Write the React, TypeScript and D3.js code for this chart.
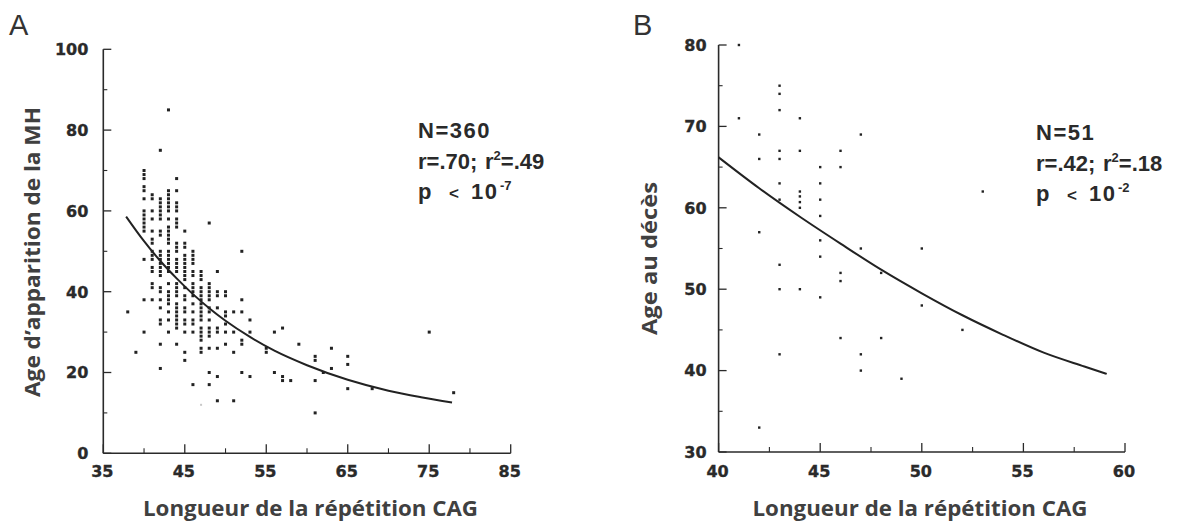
import React from "react";
import * as d3 from "d3";

// ---------- Panel A data (CAG repeat length vs age at onset) ----------
const cagA = [38, 39, 40, 41, 42, 43, 44, 45, 46, 47, 48, 49, 50, 51, 52, 53, 55, 56, 57, 58, 59, 61, 62, 63, 65, 68, 75, 78];
const onsetA: number[][] = [
  [35],
  [25],
  [70, 69, 68, 66, 65, 63, 60, 59, 58, 57, 56, 55, 48, 38, 30],
  [64, 63, 60, 58, 55, 53, 52, 50, 49, 48, 46, 45, 42, 41, 38],
  [75, 63, 62, 61, 60, 59, 58, 55, 54, 50, 49, 48, 47, 46, 45, 44, 41, 40, 38, 36, 33, 32, 27, 21],
  [85, 65, 64, 63, 62, 61, 60, 58, 56, 55, 54, 53, 52, 50, 49, 48, 47, 46, 45, 42, 40, 39, 38, 37, 35, 33, 30],
  [68, 65, 62, 61, 60, 58, 57, 56, 52, 51, 50, 48, 47, 46, 45, 42, 41, 40, 39, 37, 36, 35, 34, 33, 32, 31, 27],
  [55, 52, 51, 49, 48, 47, 46, 45, 44, 43, 41, 39, 38, 36, 35, 33, 32, 30, 25, 23],
  [50, 49, 48, 47, 45, 44, 42, 41, 40, 39, 37, 35, 33, 32, 30, 17],
  [45, 44, 43, 41, 40, 39, 38, 37, 36, 35, 34, 33, 31, 30, 29, 28, 26, 25],
  [57, 42, 41, 40, 39, 38, 36, 35, 33, 31, 30, 29, 26, 20, 17],
  [45, 40, 39, 36, 31, 30, 26, 19, 13],
  [40, 39, 35, 34, 32, 30, 27],
  [35, 30, 25, 13],
  [50, 38, 35, 28, 27, 20],
  [33, 30, 19],
  [26, 25],
  [30, 20],
  [31, 19, 18],
  [18],
  [27],
  [24, 23, 18, 10],
  [20],
  [26, 21],
  [24, 22, 16],
  [16],
  [30],
  [15],
];
const faintCagA = [47];
const faintOnsetA = [12];
const fitCagA = [37.8, 40, 42, 44, 46, 48, 50, 53, 56, 60, 65, 70, 74, 77.8];
const fitOnsetA = [58.6, 52.5, 47.6, 43.3, 39.4, 35.9, 32.8, 28.8, 25.4, 21.8, 18.2, 15.5, 13.9, 12.6];

const xMajorA = [35, 45, 55, 65, 75, 85];
const xMinorA = [40, 50, 60, 70, 80];
const yMajorA = [0, 20, 40, 60, 80, 100];
const yMinorA = [10, 30, 50, 70, 90];

// ---------- Panel B data (CAG repeat length vs age at death) ----------
const cagB = [41, 42, 43, 44, 45, 46, 47, 48, 49, 50, 52, 53];
const deathB: number[][] = [
  [80, 71],
  [69, 66, 57, 33],
  [75, 74, 72, 67, 66, 63, 61, 53, 50, 42],
  [71, 67, 62, 61.4, 60.7, 60, 50],
  [65, 63, 61, 59, 56, 54, 49],
  [67, 65, 52, 51, 44],
  [69, 55, 42, 40],
  [52, 44],
  [39],
  [55, 48],
  [45],
  [62],
];
const fitCagB = [40, 42, 44, 46, 48, 50, 52, 54, 56, 58, 59.1];
const fitDeathB = [66.2, 62.4, 58.9, 55.6, 52.4, 49.5, 46.8, 44.4, 42.2, 40.5, 39.6];

const xMajorB = [40, 45, 50, 55, 60];
const xMinorB = [42.5, 47.5, 52.5, 57.5];
const yMajorB = [30, 40, 50, 60, 70, 80];
const yMinorB = [35, 45, 55, 65, 75];

const xTitle = "Longueur de la répétition CAG";
const yTitleA = "Age d\u2019apparition de la MH";
const yTitleB = "Age au décès";

const INK = "#2a2a2a";
const TICKFONT = "'DejaVu Sans', sans-serif";
const ANNOTFONT = "'Liberation Sans', Arial, sans-serif";
const TITLEFONT = "'Open Sans', 'Noto Sans', sans-serif";
const TITLECOLOR = "#404040";

type PanelProps = {
  x: d3.ScaleLinear<number, number>;
  y: d3.ScaleLinear<number, number>;
  xMajor: number[];
  xMinor: number[];
  yMajor: number[];
  yMinor: number[];
  yLabelGap: number;
};

function Axes({ x, y, xMajor, xMinor, yMajor, yMinor, yLabelGap }: PanelProps) {
  const [x0, x1] = x.range();
  const [y0, y1] = y.range();
  const tickText = {
    fontFamily: TICKFONT,
    fontWeight: "bold" as const,
    fontSize: 16,
    fill: INK,
    stroke: INK,
    strokeWidth: 0.35,
  };
  return (
    <g>
      <line x1={x0} x2={x0} y1={y1} y2={y0} stroke={INK} strokeWidth={1.6} />
      <line x1={x0} x2={x1} y1={y0} y2={y0} stroke={INK} strokeWidth={1.6} />
      {yMajor.map((v) => (
        <g key={"ym" + v}>
          <line x1={x0} x2={x0 + 8} y1={y(v)} y2={y(v)} stroke={INK} strokeWidth={1.3} />
          <text x={x0 - yLabelGap} y={y(v) + 5.8} textAnchor="end" {...tickText}>
            {v}
          </text>
        </g>
      ))}
      {yMinor.map((v) => (
        <line key={"yn" + v} x1={x0} x2={x0 + 4} y1={y(v)} y2={y(v)} stroke={INK} strokeWidth={1.1} />
      ))}
      {xMajor.map((v) => (
        <g key={"xm" + v}>
          <line x1={x(v)} x2={x(v)} y1={y0} y2={y0 - 9} stroke={INK} strokeWidth={1.3} />
          <text x={x(v) - 1} y={477} textAnchor="middle" {...tickText}>
            {v}
          </text>
        </g>
      ))}
      {xMinor.map((v) => (
        <line key={"xn" + v} x1={x(v)} x2={x(v)} y1={y0} y2={y0 - 5} stroke={INK} strokeWidth={1.1} />
      ))}
    </g>
  );
}

function Annot({ x, y, n, r, r2, pExp }: { x: number; y: number; n: string; r: string; r2: string; pExp: string }) {
  const common = {
    fontFamily: ANNOTFONT,
    fontWeight: "bold" as const,
    fontSize: 22,
    fill: INK,
  };
  return (
    <g>
      <text x={x} y={y} {...common} letterSpacing={1.5}>{`N=${n}`}</text>
      <text x={x} y={y + 30.5} {...common} letterSpacing={0}>
        <tspan x={x}>{`r=${r};`}</tspan>
        <tspan x={x + 67}>r</tspan>
        <tspan dy={-9} fontSize={13}>2</tspan>
        <tspan dy={9}>{`=${r2}`}</tspan>
      </text>
      <text x={x} y={y + 60.5} {...common}>
        <tspan x={x}>p</tspan>
        <tspan x={x + 31} fontSize={17}>{"<"}</tspan>
        <tspan x={x + 53} letterSpacing={1.5}>10</tspan>
        <tspan x={x + 82} dy={-9} fontSize={13}>{pExp}</tspan>
      </text>
    </g>
  );
}

export default function App() {
  const xA = d3.scaleLinear().domain([35, 85]).range([103.3, 510.7]);
  const yA = d3.scaleLinear().domain([0, 100]).range([453.3, 49.3]);
  const xB = d3.scaleLinear().domain([40, 60]).range([718.6, 1125]);
  const yB = d3.scaleLinear().domain([30, 80]).range([452, 45]);

  const lineA = d3
    .line<number>()
    .x((d) => xA(d))
    .y((_, i) => yA(fitOnsetA[i]))
    .curve(d3.curveMonotoneX);
  const lineB = d3
    .line<number>()
    .x((d) => xB(d))
    .y((_, i) => yB(fitDeathB[i]))
    .curve(d3.curveMonotoneX);

  const ptsA = cagA.flatMap((c, i) => onsetA[i].map((v) => [c, v] as [number, number]));
  const ptsB = cagB.flatMap((c, i) => deathB[i].map((v) => [c, v] as [number, number]));

  const titleProps = {
    fontFamily: TITLEFONT,
    fontWeight: 700,
    fontSize: 21,
    fill: TITLECOLOR,
    lengthAdjust: "spacingAndGlyphs" as const,
  };

  return (
    <div style={{ position: "absolute", left: 0, top: 0, width: 1192, height: 522, background: "#fff" }}>
      <svg width={1192} height={522} style={{ display: "block" }}>
        <rect width={1192} height={522} fill="#fff" />
        {/* Panel letters */}
        <text x={9} y={35} fontFamily="'Liberation Sans', Arial, sans-serif" fontSize={29} fill="#333">A</text>
        <text x={633} y={35} fontFamily="'Liberation Sans', Arial, sans-serif" fontSize={29} fill="#333">B</text>

        {/* Panel A */}
        <Axes x={xA} y={yA} xMajor={xMajorA} xMinor={xMinorA} yMajor={yMajorA} yMinor={yMinorA} yLabelGap={15} />
        {ptsA.map(([c, v], i) => (
          <rect key={"a" + i} x={xA(c) - 1.5} y={yA(v) - 1.5} width={3} height={3} fill="#222" />
        ))}
        {faintCagA.map((c, i) => (
          <rect key={"f" + i} x={xA(c) - 1} y={yA(faintOnsetA[i]) - 1} width={2} height={2} fill="#c8c8c8" />
        ))}
        <path d={lineA(fitCagA) || ""} fill="none" stroke="#222" strokeWidth={2} />
        <Annot x={418} y={138} n="360" r=".70" r2=".49" pExp="-7" />
        <text x={310.5} y={516} textAnchor="middle" textLength={335} {...titleProps}>
          {xTitle}
        </text>
        <text transform="translate(40,252) rotate(-90)" textAnchor="middle" textLength={290} {...titleProps}>
          {yTitleA}
        </text>

        {/* Panel B */}
        <Axes x={xB} y={yB} xMajor={xMajorB} xMinor={xMinorB} yMajor={yMajorB} yMinor={yMinorB} yLabelGap={12} />
        {ptsB.map(([c, v], i) => (
          <rect key={"b" + i} x={xB(c) - 1.2} y={yB(v) - 1.2} width={2.4} height={2.4} fill="#222" />
        ))}
        <path d={lineB(fitCagB) || ""} fill="none" stroke="#222" strokeWidth={2} />
        <Annot x={1036} y={140} n="51" r=".42" r2=".18" pExp="-2" />
        <text x={920} y={515.5} textAnchor="middle" textLength={335} {...titleProps}>
          {xTitle}
        </text>
        <text transform="translate(657,258.5) rotate(-90)" textAnchor="middle" textLength={153} {...titleProps}>
          {yTitleB}
        </text>
      </svg>
    </div>
  );
}
